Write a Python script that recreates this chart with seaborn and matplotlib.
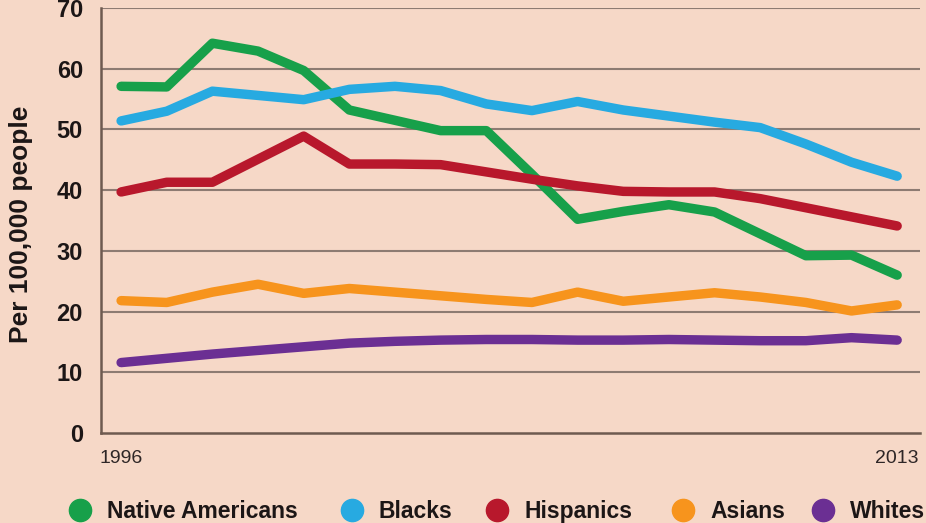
import pandas as pd
import matplotlib.pyplot as plt
import seaborn as sns
from matplotlib.lines import Line2D

# --- Données (taux pour 100 000 habitants) ---
years = list(range(1996, 2014))
native = [57.1, 57.0, 64.2, 62.9, 59.7, 53.2, 51.5, 49.8, 49.8, 42.6, 35.2, 36.5, 37.6, 36.4, 32.8, 29.2, 29.3, 26.0]
blacks = [51.4, 53.0, 56.3, 55.6, 54.9, 56.6, 57.1, 56.4, 54.2, 53.1, 54.6, 53.2, 52.2, 51.2, 50.3, 47.6, 44.6, 42.3]
hispanics = [39.7, 41.3, 41.3, 45.1, 48.9, 44.3, 44.3, 44.2, 43.0, 41.8, 40.7, 39.8, 39.7, 39.7, 38.6, 37.1, 35.6, 34.1]
asians = [21.8, 21.5, 23.2, 24.5, 23.0, 23.8, 23.2, 22.6, 22.0, 21.5, 23.2, 21.7, 22.4, 23.1, 22.4, 21.5, 20.1, 21.1]
whites = [11.6, 12.3, 13.0, 13.6, 14.2, 14.8, 15.1, 15.3, 15.4, 15.4, 15.3, 15.3, 15.4, 15.3, 15.2, 15.2, 15.7, 15.3]

groups = ['Native Americans', 'Blacks', 'Hispanics', 'Asians', 'Whites']
colors = ['#17a04a', '#27aae1', '#b8182c', '#f7941d', '#6b2f93']
y_ticks = [0, 10, 20, 30, 40, 50, 60, 70]
x_ticks = [1996, 2013]

series = [native, blacks, hispanics, asians, whites]
df = pd.concat(
    [pd.DataFrame({'Year': years, 'Rate': vals, 'Group': g}) for g, vals in zip(groups, series)],
    ignore_index=True,
)

# --- Style ---
bg = '#f6d8c7'
sns.set_style('white')
plt.rcParams['font.family'] = ['Liberation Sans', 'DejaVu Sans']

W, H = 926, 523
fig = plt.figure(figsize=(W / 100, H / 100), dpi=100, facecolor=bg)
ax = fig.add_axes([101 / W, 90 / H, 819 / W, 425 / H])
ax.set_facecolor(bg)

sns.lineplot(data=df, x='Year', y='Rate', hue='Group', hue_order=groups,
             palette=colors, linewidth=6.8, legend=False, ax=ax,
             solid_capstyle='round', solid_joinstyle='round')

ax.set_xlim(1995.56, 2013.5)
ax.set_ylim(0, 70)

for v in y_ticks[1:]:
    ax.axhline(v, color='#8d7b72', linewidth=1.5, zorder=0)

ax.set_yticks(y_ticks)
ax.set_yticklabels([str(v) for v in y_ticks], fontsize=17, fontweight='bold', color='#1c1616')
ax.set_xticks(x_ticks)
ax.set_xticklabels([str(v) for v in x_ticks], fontsize=14, color='#2e2626')
ax.tick_params(axis='y', length=0, pad=13)
ax.tick_params(axis='x', length=0, pad=12)

ax.set_xlabel('')
ax.set_ylabel('Per 100,000 people', fontsize=19, fontweight='bold', color='#1c1616')
ax.yaxis.set_label_coords(-0.083, 0.49)

for side in ['top', 'right']:
    ax.spines[side].set_visible(False)
for side in ['left', 'bottom']:
    ax.spines[side].set_color('#6e5a50')
    ax.spines[side].set_linewidth(1.8)

# --- Légende (placée à la main pour garder la même ligne de base) ---
legend_x = [80, 352, 497, 683, 823]
for x, g, c in zip(legend_x, groups, colors):
    fig.add_artist(Line2D([x / W], [(H - 510) / H], transform=fig.transFigure,
                          marker='o', linestyle='', markersize=16,
                          markerfacecolor=c, markeredgecolor=c))
    fig.text((x + 27) / W, (H - 518) / H, g, fontsize=16.5, fontweight='bold',
             color='#1c1616', ha='left', va='baseline')

fig.savefig('out.png', dpi=100, facecolor=bg)
